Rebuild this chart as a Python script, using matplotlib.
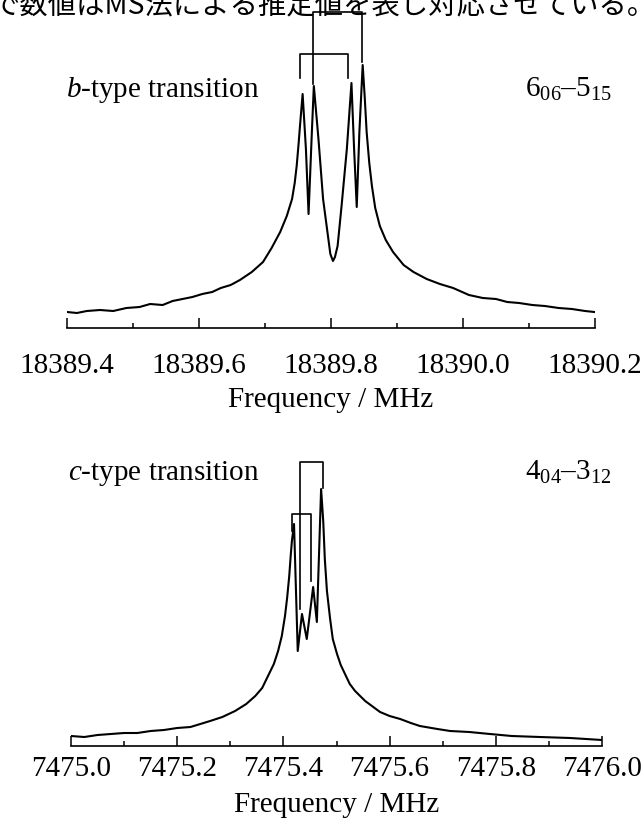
import matplotlib.pyplot as plt
from matplotlib.ticker import MultipleLocator, FormatStrFormatter

plt.rcParams['font.family'] = ['Liberation Serif']
plt.rcParams['mathtext.fontset'] = 'custom'
plt.rcParams['mathtext.rm'] = 'Liberation Serif'
plt.rcParams['mathtext.it'] = 'Liberation Serif:italic'

# b-type transition 6_06-5_15 (intensity in arbitrary units)
freq_b = [18389.400, 18389.415, 18389.430, 18389.450, 18389.470, 18389.490,
          18389.510, 18389.526, 18389.545, 18389.560, 18389.575, 18389.590,
          18389.605, 18389.620, 18389.633, 18389.648, 18389.662, 18389.680,
          18389.697, 18389.710, 18389.723, 18389.733, 18389.741, 18389.745,
          18389.748, 18389.751, 18389.753, 18389.757, 18389.762, 18389.766,
          18389.771, 18389.774, 18389.781, 18389.788, 18389.796, 18389.799,
          18389.803, 18389.806, 18389.810, 18389.816, 18389.824, 18389.831,
          18389.835, 18389.839, 18389.843, 18389.848, 18389.851, 18389.854,
          18389.858, 18389.862, 18389.867, 18389.874, 18389.883, 18389.894,
          18389.910, 18389.925, 18389.945, 18389.965, 18389.985, 18390.009,
          18390.030, 18390.050, 18390.067, 18390.085, 18390.105, 18390.124,
          18390.145, 18390.165, 18390.185, 18390.199]
int_b = [16, 15, 17, 18, 17, 20,
         21, 24, 23, 27, 29, 31,
         34, 36, 40, 43, 48, 56,
         66, 80, 96, 112, 129, 145,
         162, 185, 202, 234, 179, 114,
         196, 242, 189, 129, 89, 74,
         67, 71, 82, 122, 179, 245,
         179, 121, 196, 263, 232, 196,
         165, 142, 120, 102, 88, 76,
         63, 56, 49, 44, 40, 33,
         30, 29, 26, 25, 23, 22,
         20, 19, 17, 16]

# Doppler pairs (b-type)
pair_b1_x = [18389.753, 18389.826]
pair_b1_y = [250, 274, 250]
pair_b2_x = [18389.772, 18389.847]
pair_b2_y = [244, 316, 266]

# c-type transition 4_04-3_12
freq_c = [7475.000, 7475.025, 7475.050, 7475.075, 7475.100, 7475.125,
          7475.150, 7475.175, 7475.200, 7475.225, 7475.262, 7475.285,
          7475.309, 7475.330, 7475.347, 7475.360, 7475.371, 7475.382,
          7475.390, 7475.397, 7475.403, 7475.407, 7475.411, 7475.414,
          7475.416, 7475.420, 7475.427, 7475.435, 7475.444, 7475.456,
          7475.463, 7475.471, 7475.475, 7475.478, 7475.482, 7475.488,
          7475.493, 7475.501, 7475.508, 7475.516, 7475.525, 7475.535,
          7475.554, 7475.582, 7475.600, 7475.620, 7475.640, 7475.657,
          7475.690, 7475.714, 7475.750, 7475.789, 7475.830, 7475.883,
          7475.940, 7476.000]
int_c = [10, 9, 11, 12, 13, 13,
         15, 16, 18, 19, 25, 29,
         35, 42, 50, 58, 70, 82,
         95, 110, 130, 148, 170, 192,
         205, 222, 95, 132, 107, 159,
         124, 257, 225, 187, 155, 127,
         107, 92, 81, 72, 62, 55,
         45, 34, 30, 27, 23, 20,
         17, 15, 14, 12, 10, 9,
         8, 6]

pair_c1_x = [7475.416, 7475.452]
pair_c1_y = [215, 232, 165]
pair_c2_x = [7475.431, 7475.475]
pair_c2_y = [137, 284, 258]

W, H = 644, 820
fig = plt.figure(figsize=(W / 100, H / 100), dpi=100)

ax1 = fig.add_axes([67 / W, (H - 329) / H, 528 / W, 329 / H])
ax2 = fig.add_axes([71 / W, (H - 747) / H, 531 / W, 327 / H])


def style(ax, xlim, ylim, pad, labelpad):
    ax.set_xlim(*xlim)
    ax.set_ylim(*ylim)
    for s in ["left", "right", "top"]:
        ax.spines[s].set_visible(False)
    ax.spines["bottom"].set_linewidth(1.2)
    ax.set_yticks([])
    ax.xaxis.set_major_locator(MultipleLocator(0.2))
    ax.xaxis.set_minor_locator(MultipleLocator(0.1))
    ax.xaxis.set_major_formatter(FormatStrFormatter("%.1f"))
    ax.tick_params(axis="x", which="major", direction="in", length=7.5,
                   width=1.1, pad=pad, labelsize=21)
    ax.tick_params(axis="x", which="minor", direction="in", length=3.8,
                   width=1.1)
    ax.set_xlabel("Frequency / MHz", fontsize=21, labelpad=labelpad)
    ax.patch.set_alpha(0)


def bracket(ax, xs, ys):
    ax.plot([xs[0], xs[0], xs[1], xs[1]], [ys[0], ys[1], ys[1], ys[2]],
            color="black", lw=1.2, clip_on=False)


ax1.plot(freq_b, int_b, color="black", lw=1.5)
bracket(ax1, pair_b1_x, pair_b1_y)
bracket(ax1, pair_b2_x, pair_b2_y)
style(ax1, (18389.4, 18390.2), (0, 329), 17, 6)

ax2.plot(freq_c, int_c, color="black", lw=1.5)
bracket(ax2, pair_c1_x, pair_c1_y)
bracket(ax2, pair_c2_x, pair_c2_y)
style(ax2, (7475.0, 7476.0), (0, 327), 6.5, 7)

fig.text(66 / W, 1 - 97 / H, "$b$-type transition", fontsize=21, va="baseline")
fig.text(525 / W, 1 - 97 / H, "6$_{06}$–5$_{15}$", fontsize=21, va="baseline")
fig.text(68 / W, 1 - 480 / H, "$c$-type transition", fontsize=21, va="baseline")
fig.text(525 / W, 1 - 480 / H, "4$_{04}$–3$_{12}$", fontsize=21, va="baseline")

# caption line cut off at the top of the page
fig.text(-8 / W, 1 - 13 / H, "で数値はMS法による推定値を表し対応させている。",
         fontsize=20.4, va="baseline", ha="left",
         family=["Noto Sans CJK JP", "DejaVu Sans"])

fig.savefig("out.png", dpi=100)
